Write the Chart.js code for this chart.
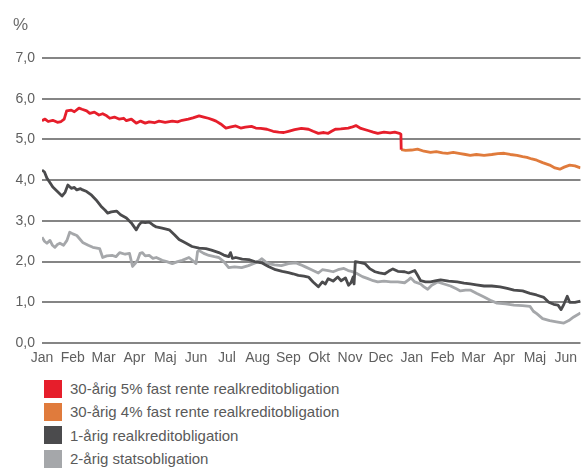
<!DOCTYPE html>
<html>
<head>
<meta charset="utf-8">
<script src="https://cdn.jsdelivr.net/npm/chart.js@4/dist/chart.umd.min.js"></script>
<style>
  html, body { margin: 0; padding: 0; background: #ffffff; }
  body { width: 584px; height: 468px; position: relative; overflow: hidden; font-family: "Liberation Sans", Arial, sans-serif; }
  #wrap { position: absolute; left: 0; top: 0; width: 584px; height: 370px; }
  #unit { position: absolute; left: 13px; top: 15px; font-size: 17px; color: #6b6b6b; }
  #legend { position: absolute; left: 44px; top: 377px; font-size: 15px; color: #5a5a5a; }
  .row { height: 23.3px; display: flex; align-items: center; }
  .box { width: 18px; height: 18px; margin-right: 8px; flex: none; }
</style>
</head>
<body>
<div id="wrap"><canvas id="c" width="584" height="370"></canvas></div>
<div id="unit">%</div>
<div id="legend"></div>
<script>
const monthLabels = ["Jan","Feb","Mar","Apr","Maj","Jun","Jul","Aug","Sep","Okt","Nov","Dec","Jan","Feb","Mar","Apr","Maj","Jun"];
const yTicks = [0,1,2,3,4,5,6,7];
const seriesNames = ["30-årig 5% fast rente realkreditobligation","30-årig 4% fast rente realkreditobligation","1-årig realkreditobligation","2-årig statsobligation"];

const redMonths = [0,0.1,0.2,0.35,0.5,0.62,0.72,0.8,0.95,1.05,1.2,1.3,1.45,1.55,1.7,1.85,1.97,2.1,2.2,2.35,2.5,2.65,2.74,2.9,3.06,3.2,3.35,3.48,3.65,3.8,4.0,4.23,4.4,4.55,4.75,4.9,5.1,5.25,5.4,5.55,5.65,5.8,5.97,6.1,6.29,6.45,6.6,6.8,6.94,7.1,7.3,7.5,7.68,7.85,8.0,8.2,8.42,8.65,8.8,8.97,9.15,9.29,9.4,9.52,9.7,9.94,10.05,10.19,10.35,10.58,10.75,10.9,11.1,11.3,11.45,11.6,11.65,11.66];
const redValues = [5.46,5.5,5.44,5.47,5.42,5.44,5.5,5.7,5.72,5.68,5.77,5.74,5.7,5.64,5.67,5.6,5.63,5.58,5.52,5.55,5.5,5.52,5.46,5.5,5.4,5.45,5.4,5.43,5.41,5.45,5.42,5.45,5.43,5.47,5.5,5.53,5.58,5.55,5.52,5.48,5.45,5.38,5.28,5.3,5.33,5.28,5.3,5.32,5.28,5.27,5.25,5.2,5.18,5.17,5.2,5.24,5.27,5.25,5.2,5.15,5.17,5.15,5.2,5.25,5.26,5.28,5.3,5.34,5.27,5.22,5.18,5.15,5.18,5.16,5.18,5.15,5.13,4.75];

const orangeMonths = [11.66,11.8,12.0,12.19,12.4,12.61,12.8,13.0,13.16,13.35,13.58,13.75,13.9,14.1,14.35,14.6,14.8,15.0,15.2,15.42,15.6,15.74,15.9,16.06,16.25,16.48,16.65,16.81,16.95,17.13,17.3,17.48];
const orangeValues = [4.75,4.73,4.74,4.76,4.71,4.68,4.7,4.67,4.66,4.68,4.65,4.63,4.61,4.63,4.61,4.63,4.65,4.66,4.63,4.61,4.58,4.56,4.52,4.49,4.43,4.37,4.3,4.27,4.32,4.37,4.35,4.3];

const darkMonths = [0,0.08,0.16,0.25,0.35,0.5,0.65,0.75,0.84,0.95,1.05,1.13,1.25,1.32,1.45,1.61,1.75,1.94,2.05,2.13,2.25,2.42,2.55,2.74,2.9,3.06,3.15,3.23,3.35,3.48,3.6,3.71,3.9,4.13,4.3,4.45,4.65,4.87,5.1,5.32,5.5,5.74,5.9,6.06,6.12,6.18,6.29,6.5,6.71,6.9,7.13,7.35,7.58,7.8,8.0,8.15,8.32,8.5,8.65,8.8,8.97,9.1,9.2,9.29,9.45,9.6,9.71,9.85,9.95,10.03,10.1,10.13,10.17,10.3,10.48,10.65,10.81,10.95,11.13,11.25,11.39,11.55,11.77,11.9,12.1,12.2,12.29,12.45,12.61,12.8,12.94,13.2,13.48,13.7,13.9,14.1,14.35,14.6,14.87,15.1,15.32,15.6,15.84,16.05,16.29,16.45,16.61,16.75,16.85,16.94,17.05,17.13,17.3,17.48];
const darkValues = [4.25,4.2,4.05,3.95,3.83,3.72,3.61,3.7,3.88,3.8,3.82,3.76,3.79,3.76,3.72,3.63,3.52,3.34,3.26,3.19,3.22,3.24,3.15,3.07,2.95,2.78,2.9,2.97,2.96,2.97,2.9,2.85,2.82,2.78,2.66,2.54,2.46,2.37,2.33,2.32,2.28,2.22,2.16,2.12,2.22,2.08,2.1,2.06,2.05,2.0,1.97,1.88,1.8,1.76,1.73,1.7,1.66,1.64,1.62,1.5,1.38,1.5,1.45,1.58,1.52,1.62,1.53,1.6,1.42,1.48,1.62,1.45,2.0,1.98,1.95,1.82,1.75,1.72,1.7,1.76,1.82,1.76,1.75,1.72,1.78,1.65,1.53,1.5,1.5,1.53,1.55,1.52,1.5,1.47,1.45,1.43,1.4,1.4,1.38,1.34,1.3,1.28,1.22,1.18,1.12,1.0,0.95,0.93,0.82,0.95,1.15,1.0,1.0,1.03];

const lightMonths = [0,0.08,0.16,0.26,0.34,0.42,0.5,0.58,0.7,0.81,0.9,1.0,1.13,1.22,1.32,1.5,1.65,1.87,1.97,2.1,2.29,2.4,2.52,2.7,2.84,2.94,3.02,3.1,3.18,3.26,3.35,3.48,3.6,3.71,3.9,4.05,4.23,4.4,4.55,4.77,4.9,5.0,5.05,5.1,5.25,5.42,5.6,5.74,5.9,6.06,6.25,6.48,6.7,6.94,7.05,7.13,7.25,7.35,7.55,7.77,8.0,8.23,8.4,8.55,8.75,8.97,9.1,9.29,9.45,9.61,9.8,9.94,10.05,10.19,10.4,10.58,10.75,10.9,11.1,11.32,11.55,11.77,11.9,11.97,12.1,12.29,12.4,12.52,12.65,12.84,13.05,13.26,13.45,13.58,13.75,13.9,14.1,14.35,14.55,14.77,15.05,15.32,15.6,15.84,15.95,16.06,16.25,16.48,16.7,16.94,17.1,17.26,17.48];
const lightValues = [2.6,2.5,2.45,2.52,2.4,2.35,2.42,2.45,2.4,2.52,2.72,2.68,2.64,2.56,2.47,2.4,2.35,2.32,2.1,2.14,2.15,2.12,2.22,2.18,2.2,1.88,1.95,2.03,2.2,2.22,2.14,2.15,2.08,2.1,2.03,2.0,1.95,2.0,2.03,2.1,2.02,1.95,2.25,2.27,2.2,2.15,2.12,2.1,2.0,1.85,1.87,1.85,1.9,1.97,2.02,2.07,2.0,1.95,1.92,1.9,1.95,1.97,1.92,1.87,1.8,1.72,1.8,1.78,1.75,1.8,1.83,1.78,1.76,1.72,1.63,1.58,1.53,1.5,1.52,1.5,1.5,1.48,1.55,1.6,1.5,1.45,1.38,1.32,1.42,1.5,1.45,1.4,1.33,1.28,1.3,1.3,1.22,1.13,1.05,0.98,0.96,0.93,0.92,0.9,0.78,0.72,0.6,0.55,0.52,0.49,0.55,0.64,0.74];

const colors = ["#e61e2b", "#e07b3c", "#4b4b4d", "#a5a7aa"];

function pts(xs, ys) { return xs.map((x, i) => ({ x: x, y: ys[i] })); }

const sets = [[redMonths, redValues], [orangeMonths, orangeValues], [darkMonths, darkValues], [lightMonths, lightValues]];

const legend = document.getElementById('legend');
seriesNames.forEach((n, i) => {
  const r = document.createElement('div'); r.className = 'row';
  const b = document.createElement('span'); b.className = 'box'; b.style.background = colors[i];
  const t = document.createElement('span'); t.textContent = n;
  r.appendChild(b); r.appendChild(t); legend.appendChild(r);
});

new Chart(document.getElementById('c'), {
  type: 'line',
  data: {
    datasets: sets.map((s, i) => ({
      label: seriesNames[i],
      data: pts(s[0], s[1]),
      borderColor: colors[i],
      backgroundColor: colors[i],
      borderWidth: 2.8,
      pointRadius: 0,
      tension: 0,
      borderJoinStyle: 'round',
      order: i
    }))
  },
  options: {
    responsive: false,
    animation: false,
    layout: { padding: { top: 58, right: 0, bottom: 0, left: 0 } },
    plugins: { legend: { display: false }, tooltip: { enabled: false }, title: { display: false } },
    scales: {
      x: {
        type: 'linear',
        min: 0,
        max: 17.48,
        grid: { display: false, drawTicks: false },
        border: { display: false },
        afterBuildTicks: (scale) => { scale.ticks = monthLabels.map((_, i) => ({ value: i })); },
        afterFit: (scale) => { scale.height = 27; },
        ticks: {
          autoSkip: false, maxRotation: 0, padding: 7,
          color: '#5f5f5f',
          font: { family: '"Liberation Sans", Arial, sans-serif', size: 14 },
          callback: (v) => monthLabels[Math.round(v)]
        }
      },
      y: {
        min: 0, max: 7,
        afterBuildTicks: (scale) => { scale.ticks = yTicks.map(v => ({ value: v })); },
        afterFit: (scale) => { scale.width = 42; },
        grid: { color: '#858585', lineWidth: 2, drawTicks: false },
        border: { display: false },
        ticks: {
          padding: 7,
          color: '#5f5f5f',
          font: { family: '"Liberation Sans", Arial, sans-serif', size: 14 },
          callback: (v) => v.toFixed(1).replace('.', ',')
        }
      }
    }
  }
});
</script>
</body>
</html>
